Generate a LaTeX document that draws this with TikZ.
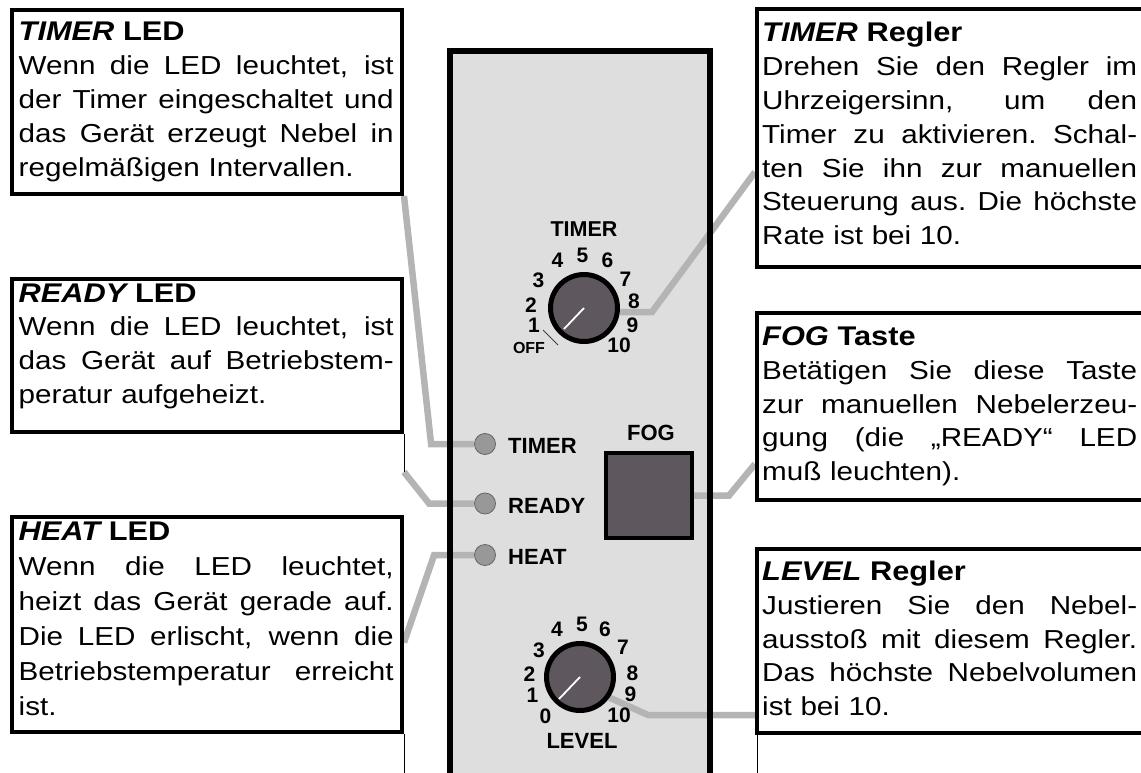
\documentclass[tikz,border=0pt]{standalone}
\usepackage{fontspec}
\setmainfont{Liberation Sans}[FakeStretch=1.14]
\newfontfamily\panelfont{Liberation Sans}
\usetikzlibrary{calc}
\definecolor{panelgray}{RGB}{222,222,222}
\definecolor{knobgray}{RGB}{94,88,94}
\definecolor{conngray}{RGB}{180,180,180}
\definecolor{ledgray}{RGB}{152,152,152}
\newcommand{\jl}[1]{\leavevmode\hbox to 375pt{\spaceskip=\fontdimen2\font plus 1fil\xspaceskip=\fontdimen2\font plus 1fil\relax #1}}
\newcommand{\ttl}[2]{{\fontsize{27}{34}\selectfont\bfseries{\itshape #1} #2}}
\pgfdeclarelayer{panellayer}
\pgfdeclarelayer{wirelayer}
\pgfsetlayers{panellayer,wirelayer,main}
\begin{document}
\begin{tikzpicture}[x=1pt,y=-1pt,
  box/.style={draw=black, line width=4pt, fill=white, rectangle, inner sep=0pt, anchor=north west},
  txt/.style={anchor=base west, inner sep=0pt, text width=375pt, font=\fontsize{26}{33.8}\selectfont},
  conn/.style={draw=conngray, line width=6.5pt},
  knob/.style={circle, draw=black, line width=5pt, fill=knobgray, minimum size=67pt, inner sep=0pt},
  pointer/.style={draw=white, line width=1.8pt},
  led/.style={circle, draw=black!60, line width=0.8pt, fill=ledgray, minimum size=21pt, inner sep=0pt},
  lab/.style={font=\panelfont\fontsize{22}{22}\selectfont\bfseries, inner sep=0pt},
  dig/.style={font=\panelfont\fontsize{21}{22}\selectfont\bfseries, inner sep=0pt},
  thinline/.style={draw=black, line width=1pt}
]
\useasboundingbox (0,0) rectangle (1141,773);

% panel
\begin{pgfonlayer}{panellayer}
\fill[panelgray] (450,51) rectangle (710,800);
\end{pgfonlayer}
\draw[line width=6pt] (450,800) -- (450,51) -- (710,51) -- (710,800);

% boxes
\node[box, minimum width=390pt, minimum height=184pt] (tledbox) at (10,8) {};
\node[box, minimum width=390pt, minimum height=153pt] (rledbox) at (10,277) {};
\node[box, minimum width=390pt, minimum height=215pt] (hledbox) at (10,515) {};
\node[box, minimum width=420pt, minimum height=258pt] (tregbox) at (755,7) {};
\node[box, minimum width=420pt, minimum height=187pt] (fogbox) at (755,311) {};
\node[box, minimum width=420pt, minimum height=184pt] (lregbox) at (755,547) {};

% texts
\node[txt] (tledtxt) at (18.5,41) {\ttl{TIMER}{LED}\\
\jl{Wenn die LED leuchtet, ist}\\
\jl{der Timer eingeschaltet und}\\
\jl{das Gerät erzeugt Nebel in}\\
regelmäßigen Intervallen.};
\node[txt] (rledtxt) at (18.5,302) {\ttl{READY}{LED}\\
\jl{Wenn die LED leuchtet, ist}\\
\jl{das Gerät auf Betriebstem-}\\
peratur aufgeheizt.};
\node[txt, font=\fontsize{26}{35}\selectfont] (hledtxt) at (18.5,540) {\ttl{HEAT}{LED}\\
\jl{Wenn die LED leuchtet,}\\
\jl{heizt das Gerät gerade auf.}\\
\jl{Die LED erlischt, wenn die}\\
\jl{Betriebstemperatur erreicht}\\
ist.};
\node[txt] (tregtxt) at (762,42) {\ttl{TIMER}{Regler}\\
\jl{Drehen Sie den Regler im}\\
\jl{Uhrzeigersinn, um den}\\
\jl{Timer zu aktivieren. Schal-}\\
\jl{ten Sie ihn zur manuellen}\\
\jl{Steuerung aus. Die höchste}\\
Rate ist bei 10.};
\node[txt] (fogtxt) at (762,345.5) {\ttl{FOG}{Taste}\\
\jl{Betätigen Sie diese Taste}\\
\jl{zur manuellen Nebelerzeu-}\\
\jl{gung (die „READY“ LED}\\
muß leuchten).};
\node[txt] (lregtxt) at (762,580.5) {\ttl{LEVEL}{Regler}\\
\jl{Justieren Sie den Nebel-}\\
\jl{ausstoß mit diesem Regler.}\\
\jl{Das höchste Nebelvolumen}\\
ist bei 10.};

% knobs
\node[knob] (knobT) at (584,308) {};
\draw[pointer] (knobT.center) -- ++(-20,21);
\node[knob] (knobL) at (580,677) {};
\draw[pointer] (knobL.center) -- ++(-21,22);

% LEDs
\node[led] (ledT) at (485,444) {};
\node[led] (ledR) at (485,503.5) {};
\node[led] (ledH) at (485,555) {};
\node[lab, anchor=west] (labT) at (508,445.5) {TIMER};
\node[lab, anchor=west] (labR) at (508,505.5) {READY};
\node[lab, anchor=west] (labH) at (508,556.5) {HEAT};

% fog button
\node[draw=black, line width=4pt, fill=knobgray, minimum width=86pt, minimum height=85pt, inner sep=0pt] (fogbtn) at (649,495.5) {};
\node[lab, font=\panelfont\fontsize{22}{22}\selectfont\bfseries] (foglab) at (651,432.5) {FOG};

% timer dial labels
\node[lab, font=\panelfont\fontsize{21.5}{22}\selectfont\bfseries] (timerlab) at (584,229.5) {TIMER};
\node[dig] (t4) at (557.5,260) {4};
\node[dig] (t5) at (582.5,255.5) {5};
\node[dig] (t6) at (607.5,260.5) {6};
\node[dig] (t3) at (538.5,280.5) {3};
\node[dig] (t7) at (625.5,279.5) {7};
\node[dig] (t2) at (531,305) {2};
\node[dig] (t8) at (634,301.5) {8};
\node[dig] (t1) at (534,325.5) {1};
\node[dig] (t9) at (632.5,325.5) {9};
\node[dig, font=\panelfont\fontsize{16}{16}\selectfont\bfseries] (toff) at (529,347.5) {OFF};
\node[dig] (t10) at (619,345.5) {10};
\draw[draw=black!75, line width=0.8pt] (543,330) -- (558,345);

% level dial labels
\node[dig] (l0) at (545.5,716.5) {0};
\node[dig] (l1) at (532.5,695.5) {1};
\node[dig] (l2) at (529.5,674.5) {2};
\node[dig] (l3) at (539,650) {3};
\node[dig] (l4) at (557,629.5) {4};
\node[dig] (l5) at (582,624.5) {5};
\node[dig] (l6) at (605,629.5) {6};
\node[dig] (l7) at (623,647.5) {7};
\node[dig] (l8) at (632.5,673.5) {8};
\node[dig] (l9) at (630.5,694.5) {9};
\node[dig] (l10) at (619,715.5) {10};
\node[lab, font=\panelfont\fontsize{22}{22}\selectfont\bfseries] (levellab) at (582,741) {LEVEL};

% thin frame remnants
\draw[thinline] (rledbox.south east) -- ++(0,38) coordinate (rthin);
\draw[thinline] (hledbox.south east) -- ++(0,41) -- ++(-4,0);
\draw[thinline] ([xshift=2pt]lregbox.south west) -- ++(0,42) -- ++(3,0);

% connectors
\begin{pgfonlayer}{wirelayer}
\draw[conn] (tledbox.south east) -- ($(ledT.west)+(-43,0)$) -- (ledT.west);
\draw[conn] (rthin) -- ($(ledR.west)+(-45,0)$) -- (ledR.west);
\draw[conn] ([yshift=-18pt]hledbox.east) -- ($(ledH.west)+(-40,0)$) -- (ledH.west);
\draw[conn] ([yshift=-4pt]knobT.east) -- ++(32,0) -- ([yshift=-34pt]tregbox.west);
\draw[conn] (fogbtn.east) -- ++(35,0) -- ([yshift=-57.5pt]fogbox.west);
\draw[conn] (knobL.-35) -- ($(lregbox.west)+(-107,74)$) -- ([yshift=-74pt]lregbox.west);
\end{pgfonlayer}
\end{tikzpicture}
\end{document}
